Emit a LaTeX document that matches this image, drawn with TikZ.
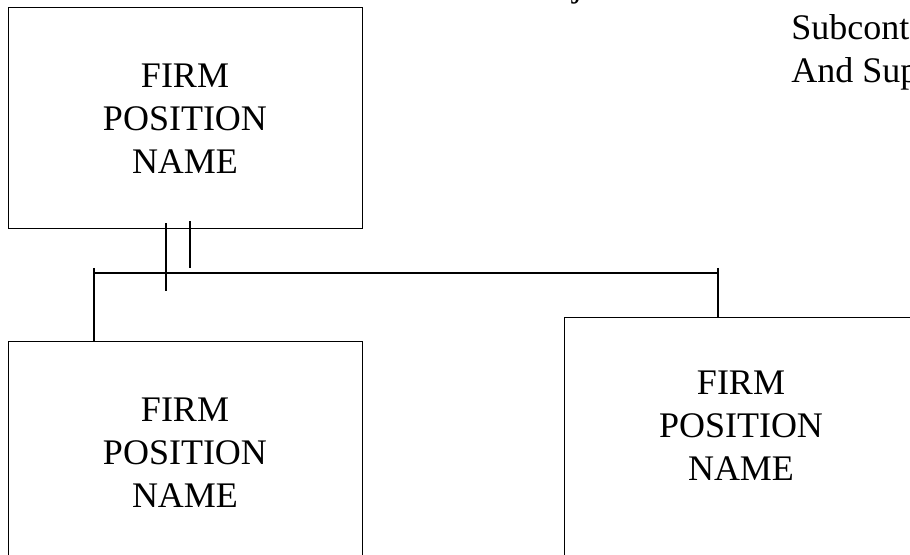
\documentclass[tikz,border=0pt]{standalone}
\usepackage{fontspec}
\setmainfont{Liberation Serif}
\usetikzlibrary{positioning,calc}

\begin{document}
\begin{tikzpicture}[
    x=0.75pt,y=-0.75pt,
    font=\fontsize{27}{32.25}\selectfont,
    firmbox/.style={draw,line width=0.75pt,minimum width=265.5pt,minimum height=165.75pt,inner sep=0pt,align=center},
    firmtext/.style={inner sep=0pt,align=center},
    bus/.style={line width=0.9pt},
    drop/.style={line width=1.4pt},
    tick/.style={line width=1.4pt}
  ]
    \useasboundingbox (0,0) rectangle (910,555);
    \node[firmbox] (firmtop) at (185,118.5) {FIRM\\POSITION\\NAME};
    \node[firmbox,below=84pt of firmtop] (firmleft) {FIRM\\POSITION\\NAME};
    \node[firmbox,minimum height=225pt,anchor=north west] (firmright) at (564,317) {};
    \node[firmtext] (firmrighttext) at (741,425.5) {FIRM\\POSITION\\NAME};
    \node[anchor=north west,inner sep=0pt,align=left] (subcon) at (791,14) {Subcont\\And Sup};
    \node[anchor=base west,inner sep=0pt] (jfrag) at (572,-3) {j};
    \coordinate (busL) at (94,273);
    \coordinate (busR) at (718,273);
    \draw[bus] (busL) -- (busR);
    \draw[drop] ($(busL)+(0,-5)$) -- (busL |- firmleft.north);
    \draw[drop] ($(busR)+(0,-5)$) -- (busR |- firmright.north);
    \draw[tick] ($(firmtop.south)+(-19,-6)$) -- ++(0,68);
    \draw[tick] ($(firmtop.south)+(5,-8)$) -- ++(0,47);
  \end{tikzpicture}
\end{document}
